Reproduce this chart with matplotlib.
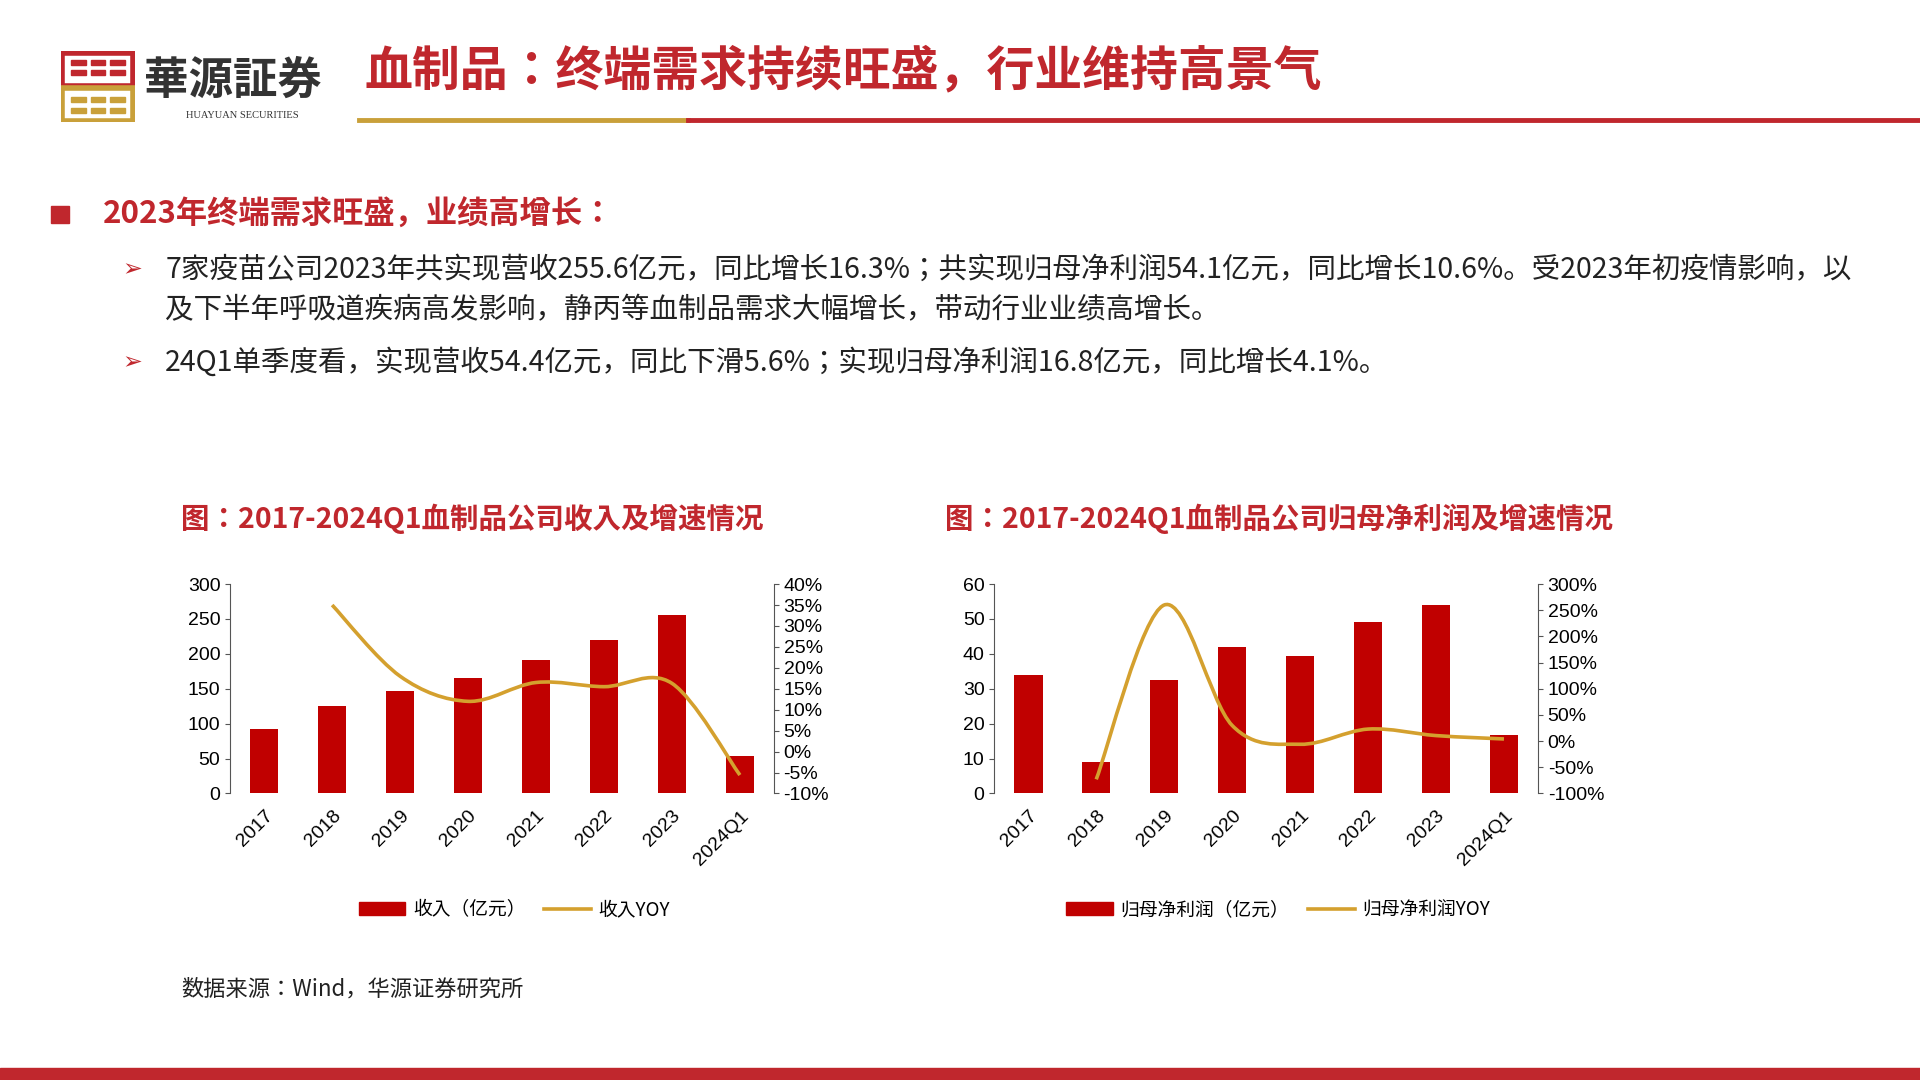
import numpy as np
import matplotlib
matplotlib.use("Agg")
import matplotlib.pyplot as plt
from matplotlib import font_manager as fm
from matplotlib.path import Path
from matplotlib.patches import PathPatch, Rectangle
from matplotlib.lines import Line2D
from matplotlib.ticker import FuncFormatter

cjk = [f.name for f in fm.fontManager.ttflist if "CJK" in f.name]
cjk_sc = [n for n in cjk if "SC" in n] or cjk
plt.rcParams["font.family"] = "sans-serif"
plt.rcParams["font.sans-serif"] = cjk_sc[:1] + ["Noto Sans CJK SC", "DejaVu Sans"]

years = ["2017", "2018", "2019", "2020", "2021", "2022", "2023", "2024Q1"]
revenue = [93, 125, 147, 165, 191, 220, 256, 54.4]
revenue_yoy = [None, 0.35, 0.18, 0.12, 0.165, 0.155, 0.163, -0.056]
profit = [34, 9, 32.5, 42, 39.5, 49, 54.1, 16.8]
profit_yoy = [None, -0.73, 2.6, 0.30, -0.06, 0.23, 0.106, 0.041]

RED = "#c00000"
TRED = "#c0272d"
GOLD = "#d4a02e"
W, H = 1568, 882  # reference pixel space
TICKFONT = "Liberation Sans"


def fx(x):
    return x / W


def fy(y):
    return 1 - y / H


def smooth_line(ax, xs, ys, **kw):
    # catmull-rom style bezier through the data points
    pts = np.column_stack([xs, ys])
    verts = [pts[0]]
    codes = [Path.MOVETO]
    for i in range(len(pts) - 1):
        p0 = pts[i - 1] if i > 0 else pts[i]
        p1, p2 = pts[i], pts[i + 1]
        p3 = pts[i + 2] if i + 2 < len(pts) else pts[i + 1]
        c1 = p1 + (p2 - p0) / 6
        c2 = p2 - (p3 - p1) / 6
        verts += [c1, c2, p2]
        codes += [Path.CURVE4] * 3
    ax.add_patch(PathPatch(Path(verts, codes), fill=False, **kw))


fig = plt.figure(figsize=(19.2, 10.8), dpi=100)

# header
logo = fig.add_axes([fx(50), fy(100), fx(60), 58 / H])
logo.set_xlim(0, 60)
logo.set_ylim(0, 58)
logo.axis("off")
logo.add_patch(Rectangle((1, 30), 58, 27, fill=False, ec=TRED, lw=4))
logo.add_patch(Rectangle((1, 1), 58, 27, fill=False, ec="#c9a03a", lw=4))
for y0 in (47, 39):
    for x0 in (8, 24, 40):
        logo.add_patch(Rectangle((x0, y0), 12, 4, color=TRED))
for y0 in (17, 8):
    for x0 in (8, 24, 40):
        logo.add_patch(Rectangle((x0, y0), 12, 4, color="#c9a03a"))
fig.text(fx(118), fy(66), "華源証券", fontsize=32, fontweight="bold", color="#333333", va="center")
fig.text(fx(198), fy(94), "HUAYUAN SECURITIES", fontsize=7.5, color="#333333", ha="center", va="center",
         family="Liberation Serif")
fig.text(fx(298), fy(58), "血制品：终端需求持续旺盛，行业维持高景气", fontsize=34.5, fontweight="bold",
         color=TRED, va="center")
fig.add_artist(Line2D([fx(293), fx(562)], [fy(98), fy(98)], color="#c9a03a", lw=3.5))
fig.add_artist(Line2D([fx(562), 1], [fy(98), fy(98)], color=TRED, lw=3.5))
fig.add_artist(Rectangle((0, 0), 1, 10 / H, color=TRED, transform=fig.transFigure))

# bullets
fig.add_artist(Rectangle((fx(42), fy(182)), 14 / W, 14 / H, color=TRED, transform=fig.transFigure))
fig.text(fx(84), fy(175), "2023年终端需求旺盛，业绩高增长：", fontsize=22.5, fontweight="bold",
         color=TRED, va="center")
body = [
    (220, "7家疫苗公司2023年共实现营收255.6亿元，同比增长16.3%；共实现归母净利润54.1亿元，同比增长10.6%。受2023年初疫情影响，以", True),
    (253, "及下半年呼吸道疾病高发影响，静丙等血制品需求大幅增长，带动行业业绩高增长。", False),
    (296, "24Q1单季度看，实现营收54.4亿元，同比下滑5.6%；实现归母净利润16.8亿元，同比增长4.1%。", True),
]
for y, txt, arrow in body:
    if arrow:
        fig.text(fx(100), fy(y), "➢", fontsize=17, color=TRED, va="center", family="DejaVu Sans")
    fig.text(fx(135), fy(y), txt, fontsize=20.5, color="#222222", va="center")


def draw_chart(x0, title, bars, yoy, lmax, lstep, rmin, rmax, rstep, bar_lab, line_lab):
    fig.text(fx(x0 - 40), fy(424), title, fontsize=20.5, fontweight="bold", color=TRED, va="center")
    ax = fig.add_axes([fx(x0), fy(648), fx(444), 171 / H])
    x = np.arange(len(years))
    ax.bar(x, bars, width=0.42, color=RED)
    ax.set_xlim(-0.5, len(years) - 0.5)
    ax.set_ylim(0, lmax)
    ax.set_yticks(np.arange(0, lmax + 1, lstep))
    ax.set_xticks(x)
    ax.set_xticklabels(years, rotation=45, ha="right", rotation_mode="anchor", family=TICKFONT)
    for t in ax.get_yticklabels():
        t.set_family(TICKFONT)
    ax.tick_params(axis="x", length=0, pad=10, labelsize=14)
    ax.tick_params(axis="y", labelsize=14, color="#555555")
    for s in ("top", "right", "bottom"):
        ax.spines[s].set_visible(False)
    ax.spines["left"].set_color("#555555")
    ax2 = ax.twinx()
    ax2.set_ylim(rmin, rmax)
    ax2.set_yticks(np.arange(rmin, rmax + 1e-9, rstep))
    ax2.yaxis.set_major_formatter(FuncFormatter(lambda v, p: f"{v * 100:.0f}%"))
    ax2.tick_params(axis="y", labelsize=14, color="#555555")
    for t in ax2.get_yticklabels():
        t.set_family(TICKFONT)
    for s in ("top", "left", "bottom"):
        ax2.spines[s].set_visible(False)
    ax2.spines["right"].set_color("#555555")
    xs = [i for i, v in enumerate(yoy) if v is not None]
    ys = [v for v in yoy if v is not None]
    smooth_line(ax2, xs, ys, color=GOLD, lw=2.6)
    handles = [Rectangle((0, 0), 1, 1, color=RED), Line2D([], [], color=GOLD, lw=2.6)]
    fig.legend(handles, [bar_lab, line_lab], loc="center", ncol=2, frameon=False, fontsize=13.5,
               bbox_to_anchor=(fx(x0 + 232), fy(743)), handlelength=2.5, columnspacing=1,
               handletextpad=0.4)


draw_chart(188, "图：2017-2024Q1血制品公司收入及增速情况", revenue, revenue_yoy,
           300, 50, -0.10, 0.40, 0.05, "收入（亿元）", "收入YOY")
draw_chart(812, "图：2017-2024Q1血制品公司归母净利润及增速情况", profit, profit_yoy,
           60, 10, -1.0, 3.0, 0.5, "归母净利润（亿元）", "归母净利润YOY")

fig.text(fx(148), fy(808), "数据来源：Wind，华源证券研究所", fontsize=16, color="#222222", va="center")

fig.savefig("out.png", dpi=100)
